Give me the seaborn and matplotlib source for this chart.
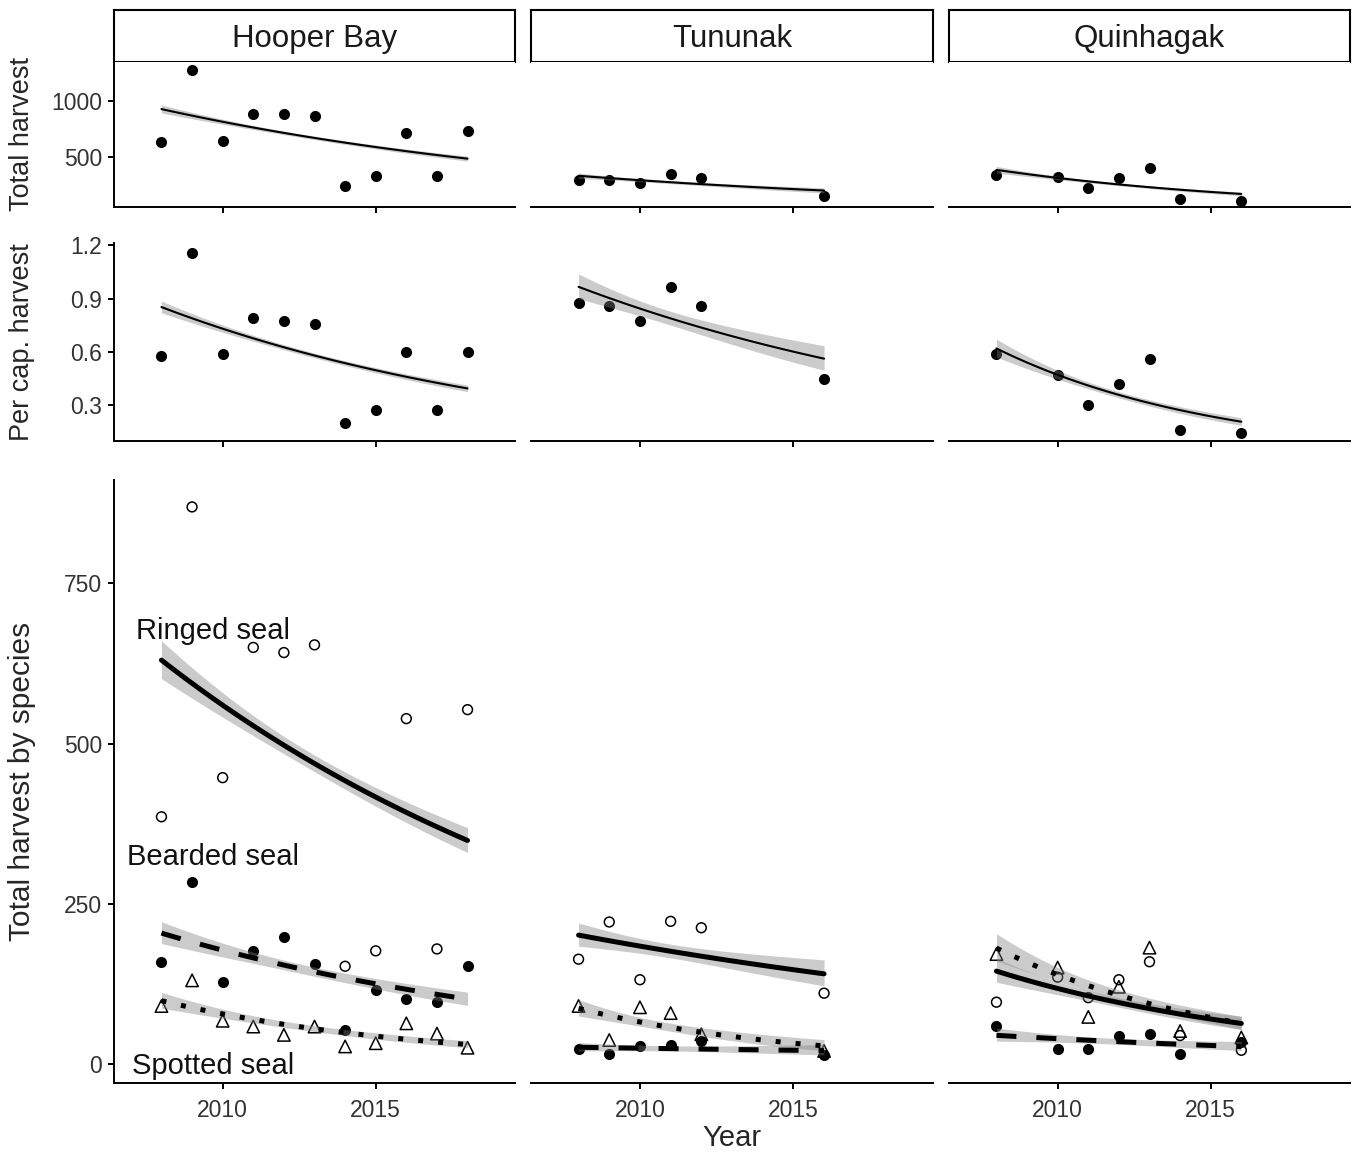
import numpy as np
import pandas as pd
import matplotlib
matplotlib.use("Agg")
import matplotlib.pyplot as plt
import seaborn as sns

# ---------------- data ----------------
villages = ["Hooper Bay", "Tununak", "Quinhagak"]

years_hb = [2008, 2009, 2010, 2011, 2012, 2013, 2014, 2015, 2016, 2017, 2018]
years_tu = [2008, 2009, 2010, 2011, 2012, 2016]
years_qu = [2008, 2010, 2011, 2012, 2013, 2014, 2016]

total_hb = [636, 1285, 639, 884, 888, 866, 236, 325, 712, 325, 730]
total_tu = [288, 288, 258, 340, 309, 145]
total_qu = [331, 318, 218, 309, 400, 118, 100]

percap_hb = [0.576, 1.156, 0.587, 0.789, 0.775, 0.758, 0.199, 0.271, 0.598, 0.271, 0.598]
percap_tu = [0.877, 0.858, 0.773, 0.967, 0.858, 0.447]
percap_qu = [0.587, 0.472, 0.299, 0.419, 0.559, 0.162, 0.145]

ringed_hb = [386, 869, 447, 650, 642, 654, 153, 177, 539, 180, 553]
bearded_hb = [160, 285, 128, 176, 198, 157, 54, 116, 102, 98, 153]
spotted_hb = [91, 131, 68, 59, 46, 59, 28, 33, 64, 48, 26]

ringed_tu = [164, 222, 132, 223, 213, 111]
bearded_tu = [24, 16, 28, 30, 36, 14]
spotted_tu = [91, 38, 89, 80, 47, 21]

ringed_qu = [97, 136, 104, 132, 160, 45, 22]
bearded_qu = [60, 24, 24, 44, 48, 16, 35]
spotted_qu = [172, 151, 74, 121, 182, 52, 42]

species_labels = ["Ringed seal", "Bearded seal", "Spotted seal"]

years = [years_hb, years_tu, years_qu]
totals = [total_hb, total_tu, total_qu]
percaps = [percap_hb, percap_tu, percap_qu]
ringed = [ringed_hb, ringed_tu, ringed_qu]
bearded = [bearded_hb, bearded_tu, bearded_qu]
spotted = [spotted_hb, spotted_tu, spotted_qu]

# ---------------- style ----------------
sns.set_style("ticks")
plt.rcParams["font.family"] = ["Liberation Sans", "DejaVu Sans"]
plt.rcParams["axes.edgecolor"] = "black"
plt.rcParams["axes.linewidth"] = 1.4
plt.rcParams["xtick.color"] = "black"
plt.rcParams["ytick.color"] = "black"

W, H = 1359, 1155
fig = plt.figure(figsize=(W / 100, H / 100), dpi=100)

TICK_FS = 16.5
TICK_COL = "#333333"
RIBBON = "#7f7f7f"


def add_ax(l, t, r, b):
    return fig.add_axes([l / W, 1 - b / H, (r - l) / W, (b - t) / H])


def poisson_fit(x, y, w=None, n=120):
    """Poisson GLM (log link), optional prior weights (exposure); 95% CI on link scale."""
    x = np.asarray(x, float)
    y = np.asarray(y, float)
    w = np.ones_like(x) if w is None else np.asarray(w, float)
    xm = x.mean()
    X = np.column_stack([np.ones_like(x), x - xm])
    beta = np.array([np.log(np.average(y, weights=w)), 0.0])
    for _ in range(100):
        eta = X @ beta
        mu = np.exp(eta)
        wt = w * mu
        z = eta + (y - mu) / mu
        XtW = X.T * wt
        new = np.linalg.solve(XtW @ X, XtW @ z)
        if np.max(np.abs(new - beta)) < 1e-12:
            beta = new
            break
        beta = new
    mu = np.exp(X @ beta)
    cov = np.linalg.inv((X.T * (w * mu)) @ X)
    xg = np.linspace(x.min(), x.max(), n)
    G = np.column_stack([np.ones_like(xg), xg - xm])
    eta = G @ beta
    se = np.sqrt(np.einsum("ij,jk,ik->i", G, cov, G))
    return xg, np.exp(eta), np.exp(eta - 1.96 * se), np.exp(eta + 1.96 * se)


def draw_fit(ax, x, y, w=None, lw=1.4, ls="-"):
    xg, f, lo, hi = poisson_fit(x, y, w)
    ax.fill_between(xg, lo, hi, color=RIBBON, alpha=0.4, lw=0, zorder=3)
    sns.lineplot(x=xg, y=f, color="black", lw=lw, linestyle=ls,
                 dash_capstyle="butt", estimator=None, sort=False,
                 ax=ax, zorder=4, legend=False)


def draw_pts(ax, x, y, kind):
    if kind == "filled":
        sns.scatterplot(x=x, y=y, marker="o", s=64, color="black",
                        edgecolor="black", linewidth=0, ax=ax, zorder=2, legend=False)
    elif kind == "open":
        sns.scatterplot(x=x, y=y, marker="o", s=50, color="none",
                        edgecolor="black", linewidth=1.1, ax=ax, zorder=2, legend=False)
    else:
        sns.scatterplot(x=x, y=y, marker="^", s=80, color="none",
                        edgecolor="black", linewidth=1.1, ax=ax, zorder=2, legend=False)


def style_ax(ax, col, show_xlabels, ylim, yticks, ylabels):
    ax.set_xlim(2006.45, 2019.55)
    ax.set_ylim(*ylim)
    ax.set_xticks([2010, 2015])
    ax.spines["top"].set_visible(False)
    ax.spines["right"].set_visible(False)
    ax.tick_params(axis="both", length=4.5, width=1.4, labelsize=TICK_FS,
                   labelcolor=TICK_COL, pad=4)
    ax.tick_params(axis="x", pad=7)
    ax.set_xlabel("")
    ax.set_ylabel("")
    if show_xlabels:
        ax.set_xticklabels(["2010", "2015"])
    else:
        ax.tick_params(axis="x", labelbottom=False)
    if col == 0:
        ax.set_yticks(yticks)
        ax.set_yticklabels(ylabels)
    else:
        ax.spines["left"].set_visible(False)
        ax.set_yticks([])
        ax.tick_params(axis="y", left=False, labelleft=False)


cols = [(114, 515), (531, 933), (949, 1350)]

for c, (l, r) in enumerate(cols):
    # strip
    sax = add_ax(l, 10, r, 62)
    sax.set_xticks([])
    sax.set_yticks([])
    for sp in sax.spines.values():
        sp.set_visible(True)
        sp.set_linewidth(1.5)
    sax.text(0.5, 0.44, villages[c], ha="center", va="center", fontsize=22.5,
             color="#1a1a1a", transform=sax.transAxes)

    # row 1: total harvest
    ax1 = add_ax(l, 62, r, 207)
    draw_pts(ax1, years[c], totals[c], "filled")
    draw_fit(ax1, years[c], totals[c], lw=1.5)
    style_ax(ax1, c, False, (43, 1358), [500, 1000], ["500", "1000"])

    # row 2: per capita harvest (Poisson with exposure = population)
    ax2 = add_ax(l, 243, r, 441)
    pop = np.asarray(totals[c], float) / np.asarray(percaps[c], float)
    draw_pts(ax2, years[c], percaps[c], "filled")
    draw_fit(ax2, years[c], percaps[c], w=pop, lw=1.5)
    style_ax(ax2, c, False, (0.098, 1.214), [0.3, 0.6, 0.9, 1.2],
             ["0.3", "0.6", "0.9", "1.2"])

    # row 3: by species
    ax3 = add_ax(l, 480, r, 1083)
    draw_pts(ax3, years[c], ringed[c], "open")
    draw_pts(ax3, years[c], bearded[c], "filled")
    draw_pts(ax3, years[c], spotted[c], "tri")
    draw_fit(ax3, years[c], ringed[c], lw=3.6, ls="-")
    draw_fit(ax3, years[c], bearded[c], lw=3.6, ls=(0, (4, 4)))
    draw_fit(ax3, years[c], spotted[c], lw=3.6, ls=(0, (1, 3)))
    style_ax(ax3, c, True, (-29, 911), [0, 250, 500, 750],
             ["0", "250", "500", "750"])
    if c == 0:
        for lab, yv in zip(species_labels, [663, 311, -15]):
            ax3.text(2009.7, yv, lab, ha="center", va="baseline", fontsize=21,
                     color="#111111", zorder=6)

# axis titles
fig.text(22 / W, 1 - 134 / H, "Total harvest", rotation=90, ha="center",
         va="center", fontsize=19.5)
fig.text(22 / W, 1 - 342 / H, "Per cap. harvest", rotation=90, ha="center",
         va="center", fontsize=19.5)
fig.text(22 / W, 1 - 781 / H, "Total harvest by species", rotation=90,
         ha="center", va="center", fontsize=21.5)
fig.text(732 / W, 1 - 1146 / H, "Year", ha="center", va="baseline", fontsize=21)

fig.savefig("out.png", dpi=100, facecolor="white")
